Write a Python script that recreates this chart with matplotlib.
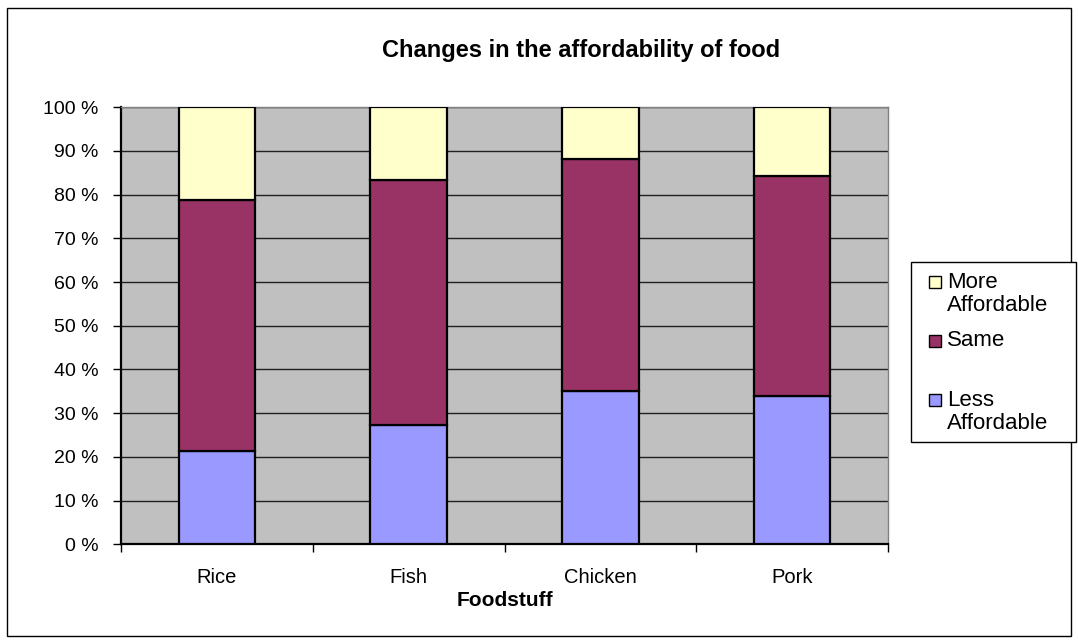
import matplotlib
matplotlib.use("Agg")
import matplotlib.pyplot as plt
from matplotlib.patches import Rectangle

plt.rcParams['font.family'] = ['Liberation Sans', 'DejaVu Sans']

# 数据（百分比，自下而上堆叠）
foods = ['Rice', 'Fish', 'Chicken', 'Pork']
less_affordable = [21.4, 27.2, 35.1, 33.9]
same = [57.5, 56.2, 53.0, 50.4]
more_affordable = [21.1, 16.6, 11.9, 15.7]

C_LESS = '#9999FF'
C_SAME = '#993366'
C_MORE = '#FFFFCC'

W, H = 1078, 643


def fx(px):
    return px / W


def fy(py):
    return 1 - py / H


fig = plt.figure(figsize=(W / 100, H / 100), dpi=100)
fig.patch.set_facecolor('white')

# 外框
fig.patches.append(Rectangle((fx(7), fy(636)), 1064 / W, 628 / H,
                             transform=fig.transFigure, fill=False,
                             edgecolor='black', linewidth=1.0))

ax = fig.add_axes([fx(121), fy(544.3), 767 / W, 437 / H])
ax.set_facecolor('#C0C0C0')

x = list(range(len(foods)))
w = 0.40
bottom_same = less_affordable
bottom_more = [a + b for a, b in zip(less_affordable, same)]
kw = dict(width=w, edgecolor='black', linewidth=1.6, zorder=3)
ax.bar(x, less_affordable, color=C_LESS, **kw)
ax.bar(x, same, bottom=bottom_same, color=C_SAME, **kw)
ax.bar(x, more_affordable, bottom=bottom_more, color=C_MORE, **kw)

ax.set_xlim(-0.5, len(foods) - 0.5)
ax.set_ylim(0, 100)
ax.set_yticks(range(0, 101, 10))
ax.set_yticklabels([f'{v} %' for v in range(0, 101, 10)], fontsize=14)
ax.yaxis.grid(True, color='#202020', linewidth=1.0, zorder=1)
ax.set_axisbelow(True)

# 分类刻度在组间边界
ax.set_xticks([i - 0.5 for i in range(len(foods) + 1)])
ax.set_xticklabels([])
ax.set_xticks(x, minor=True)
ax.set_xticklabels(foods, minor=True, fontsize=14.5)
ax.tick_params(axis='x', which='minor', length=0, pad=17)
ax.tick_params(axis='x', which='major', length=6, width=1.0, direction='out')
ax.tick_params(axis='y', length=6, width=1.0, direction='out', pad=10)

for s in ['left', 'bottom']:
    ax.spines[s].set_linewidth(1.6)
    ax.spines[s].set_color('black')
for s in ['top', 'right']:
    ax.spines[s].set_linewidth(1.0)
    ax.spines[s].set_color('#808080')

ax.set_xlabel('Foodstuff', fontsize=15, fontweight='bold', labelpad=3)

fig.text(fx(581), fy(51), 'Changes in the affordability of food',
         ha='center', va='center', fontsize=17, fontweight='bold')

# 图例（手工绘制：色块与首行文字对齐）
fig.patches.append(Rectangle((fx(911), fy(442)), 165 / W, 180 / H,
                             transform=fig.transFigure, facecolor='white',
                             edgecolor='black', linewidth=1.0))
legend_items = [
    (C_MORE, ['More', 'Affordable'], 282),
    (C_SAME, ['Same'], 341),
    (C_LESS, ['Less', 'Affordable'], 400),
]
for color, lines, y0 in legend_items:
    fig.patches.append(Rectangle((fx(929), fy(y0 + 6)), 12 / W, 12 / H,
                                 transform=fig.transFigure, facecolor=color,
                                 edgecolor='black', linewidth=1.0))
    for i, line in enumerate(lines):
        fig.text(fx(947), fy(y0 + 23.5 * i), line, ha='left', va='center',
                 fontsize=16)

plt.savefig('out.png', dpi=100)
